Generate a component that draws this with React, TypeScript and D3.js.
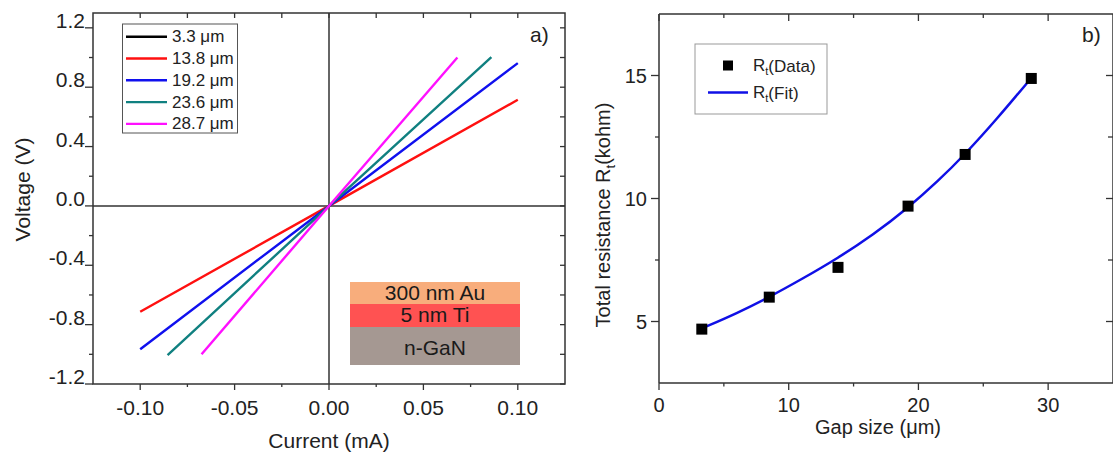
import React from "react";
import * as d3 from "d3";

// ---------- Panel a) I-V data ----------
const ivLabels = ["3.3 μm", "13.8 μm", "19.2 μm", "23.6 μm", "28.7 μm"];
const ivColors = ["#000000", "#ff1010", "#1010ee", "#108080", "#ff10ff"];
const ivCurrent: number[][] = [[], [-0.1, 0, 0.1], [-0.1, 0, 0.1], [-0.0855, 0, 0.086], [-0.0675, 0, 0.068]];
const ivVoltage: number[][] = [[], [-0.713, 0, 0.715], [-0.966, 0, 0.962], [-1.005, 0, 1.003], [-1.0, 0, 1.0]];
const aXMajor = [-0.1, -0.05, 0, 0.05, 0.1];
const aXMajorLabels = ["-0.10", "-0.05", "0.00", "0.05", "0.10"];
const aXMinor = [-0.075, -0.025, 0.025, 0.075];
const aYMajor = [-1.2, -0.8, -0.4, 0, 0.4, 0.8, 1.2];
const aYMajorLabels = ["-1.2", "-0.8", "-0.4", "0.0", "0.4", "0.8", "1.2"];
const aYMinor = [-1.0, -0.6, -0.2, 0.2, 0.6, 1.0];
const layers = ["300 nm Au", "5 nm Ti", "n-GaN"];
const layerColors = ["#f8ad7c", "#ff5252", "#a59892"];

// ---------- Panel b) resistance data ----------
const gapData = [3.3, 8.5, 13.8, 19.2, 23.6, 28.7];
const resData = [4.69, 5.99, 7.2, 9.69, 11.79, 14.88];
const fitGap = [3.3, 6, 8.6, 11, 13.8, 16.5, 19.2, 21.5, 23.6, 26, 28.7];
const fitRes = [4.72, 5.33, 6.02, 6.72, 7.58, 8.52, 9.62, 10.7, 11.8, 13.2, 14.9];
const bXMajor = [0, 10, 20, 30];
const bXMinor = [5, 15, 25];
const bYMajor = [5, 10, 15];
const bYMinor = [7.5, 12.5];

const FONT = "'Liberation Sans', Arial, sans-serif";
const AX = "#333";
const TXT = "#222";

export default function App() {
  // panel a geometry
  const aL = 93, aR = 565, aT = 13, aB = 384;
  const xa = d3.scaleLinear().domain([-0.125, 0.125]).range([aL, aR]);
  const ya = d3.scaleLinear().domain([-1.2, 1.3]).range([aB, aT]);
  // panel b geometry
  const bL = 659, bR = 1113, bT = 14, bB = 383;
  const xb = d3.scaleLinear().domain([0, 35]).range([bL, bR]);
  const yb = d3.scaleLinear().domain([2.5, 17.5]).range([bB, bT]);

  const ivLine = d3.line<[number, number]>().x((d) => xa(d[0])).y((d) => ya(d[1]));
  const fitLine = d3
    .line<[number, number]>()
    .x((d) => xb(d[0]))
    .y((d) => yb(d[1]))
    .curve(d3.curveBasis);

  const legRow0 = 36.7, legStep = 21.8;

  return (
    <svg
      width={1113}
      height={456}
      style={{ position: "absolute", left: 0, top: 0, background: "#fff" }}
      fontFamily={FONT}
    >
      {/* ================= Panel a ================= */}
      <g>
        <line x1={xa(0)} x2={xa(0)} y1={aT} y2={aB} stroke={AX} strokeWidth={1.5} />
        <line x1={aL} x2={aR} y1={ya(0)} y2={ya(0)} stroke={AX} strokeWidth={1.5} />
        {ivLabels.map((lab, i) => {
          const pts = ivCurrent[i].map((c, j) => [c, ivVoltage[i][j]] as [number, number]);
          if (pts.length < 2) return null;
          return (
            <path key={lab} d={ivLine(pts) || ""} fill="none" stroke={ivColors[i]} strokeWidth={2.4} />
          );
        })}
        <rect x={aL} y={aT} width={aR - aL} height={aB - aT} fill="none" stroke={AX} strokeWidth={1.5} />
        {aXMajor.map((v, i) => (
          <g key={"axm" + i}>
            <line x1={xa(v)} x2={xa(v)} y1={aB} y2={aB + 6} stroke={AX} strokeWidth={1.3} />
            <line x1={xa(v)} x2={xa(v)} y1={aT} y2={aT + 5} stroke={AX} strokeWidth={1.3} />
            <text x={xa(v)} y={415} textAnchor="middle" fontSize={21} fill={TXT}>
              {aXMajorLabels[i]}
            </text>
          </g>
        ))}
        {aXMinor.map((v, i) => (
          <g key={"axn" + i}>
            <line x1={xa(v)} x2={xa(v)} y1={aB} y2={aB + 3} stroke={AX} strokeWidth={1.3} />
            <line x1={xa(v)} x2={xa(v)} y1={aT} y2={aT + 5} stroke={AX} strokeWidth={1.3} />
          </g>
        ))}
        {aYMajor.map((v, i) => (
          <g key={"aym" + i}>
            <line x1={aL - 8} x2={aL} y1={ya(v)} y2={ya(v)} stroke={AX} strokeWidth={1.3} />
            <line x1={aR - 5} x2={aR} y1={ya(v)} y2={ya(v)} stroke={AX} strokeWidth={1.3} />
            <text x={aL - 8} y={ya(v)} textAnchor="end" fontSize={21} fill={TXT}>
              {aYMajorLabels[i]}
            </text>
          </g>
        ))}
        {aYMinor.map((v, i) => (
          <g key={"ayn" + i}>
            <line x1={aL - 4} x2={aL} y1={ya(v)} y2={ya(v)} stroke={AX} strokeWidth={1.3} />
            <line x1={aR - 5} x2={aR} y1={ya(v)} y2={ya(v)} stroke={AX} strokeWidth={1.3} />
          </g>
        ))}
        <text x={(aL + aR) / 2} y={448} textAnchor="middle" fontSize={21} fill={TXT}>
          Current (mA)
        </text>
        <text
          transform={`translate(30,${(aT + aB) / 2 - 9}) rotate(-90)`}
          textAnchor="middle"
          fontSize={21}
          fill={TXT}
        >
          Voltage (V)
        </text>
        <text x={530} y={42} fontSize={21} fill={TXT}>
          a)
        </text>
        <rect x={122.5} y={24} width={115} height={109} fill="#fff" stroke="#555" strokeWidth={1} />
        {ivLabels.map((lab, i) => (
          <g key={"leg" + i}>
            <line
              x1={126}
              x2={167}
              y1={legRow0 + i * legStep}
              y2={legRow0 + i * legStep}
              stroke={ivColors[i]}
              strokeWidth={2.4}
            />
            <text x={172} y={legRow0 + i * legStep} dominantBaseline="central" fontSize={17} fill={TXT}>
              {lab}
            </text>
          </g>
        ))}
        {layers.map((lab, i) => {
          const ys = [282, 304, 327, 365];
          const bases = [300, 321.5, 355];
          return (
            <g key={"lay" + i}>
              <rect x={350} y={ys[i]} width={170} height={ys[i + 1] - ys[i]} fill={layerColors[i]} />
              <text x={435} y={bases[i]} textAnchor="middle" fontSize={21} fill="#1a1a1a">
                {lab}
              </text>
            </g>
          );
        })}
      </g>

      {/* ================= Panel b ================= */}
      <g>
        <path
          d={fitLine(fitGap.map((g, i) => [g, fitRes[i]] as [number, number])) || ""}
          fill="none"
          stroke="#1010e6"
          strokeWidth={2.5}
        />
        {gapData.map((g, i) => (
          <rect key={"pt" + i} x={xb(g) - 5.5} y={yb(resData[i]) - 5.5} width={11} height={11} fill="#000" />
        ))}
        <line x1={bL} x2={bL} y1={bT} y2={bB} stroke={AX} strokeWidth={1.5} />
        <line x1={bL} x2={bR} y1={bB} y2={bB} stroke={AX} strokeWidth={1.5} />
        <line x1={bL} x2={bR} y1={bT} y2={bT} stroke={AX} strokeWidth={1.5} />
        <line x1={bR} x2={bR} y1={bT} y2={bB} stroke={AX} strokeWidth={1.5} />
        {bXMajor.map((v, i) => (
          <g key={"bxm" + i}>
            <line x1={xb(v)} x2={xb(v)} y1={bB} y2={bB + 7} stroke={AX} strokeWidth={1.3} />
            <line x1={xb(v)} x2={xb(v)} y1={bT} y2={bT + 7} stroke={AX} strokeWidth={1.3} />
            <text x={xb(v)} y={412} textAnchor="middle" fontSize={20} fill={TXT}>
              {v}
            </text>
          </g>
        ))}
        {bXMinor.map((v, i) => (
          <g key={"bxn" + i}>
            <line x1={xb(v)} x2={xb(v)} y1={bB} y2={bB + 3.5} stroke={AX} strokeWidth={1.3} />
            <line x1={xb(v)} x2={xb(v)} y1={bT} y2={bT + 4} stroke={AX} strokeWidth={1.3} />
          </g>
        ))}
        {bYMajor.map((v, i) => (
          <g key={"bym" + i}>
            <line x1={bL - 8} x2={bL} y1={yb(v)} y2={yb(v)} stroke={AX} strokeWidth={1.3} />
            <line x1={bR - 7} x2={bR} y1={yb(v)} y2={yb(v)} stroke={AX} strokeWidth={1.3} />
            <text x={bL - 12} y={yb(v)} dy="0.36em" textAnchor="end" fontSize={20} fill={TXT}>
              {v}
            </text>
          </g>
        ))}
        {bYMinor.map((v, i) => (
          <g key={"byn" + i}>
            <line x1={bL - 4} x2={bL} y1={yb(v)} y2={yb(v)} stroke={AX} strokeWidth={1.3} />
            <line x1={bR - 5} x2={bR} y1={yb(v)} y2={yb(v)} stroke={AX} strokeWidth={1.3} />
          </g>
        ))}
        <text x={878} y={434} textAnchor="middle" fontSize={20} fill={TXT}>
          Gap size (μm)
        </text>
        <text transform={`translate(610,215) rotate(-90)`} textAnchor="middle" fontSize={20} fill={TXT}>
          Total resistance R<tspan fontSize={13} dy={5}>t</tspan>
          <tspan dy={-5}>(kohm)</tspan>
        </text>
        <text x={1082} y={42} fontSize={21} fill={TXT}>
          b)
        </text>
        <rect x={695} y={44} width={132} height={70} fill="#fff" stroke="#999" strokeWidth={1} />
        <rect x={723} y={60.5} width={10} height={10} fill="#000" />
        <text x={753} y={65.5} dominantBaseline="central" fontSize={17} fill={TXT}>
          R<tspan fontSize={11} dy={5}>t</tspan>
          <tspan dy={-5}>(Data)</tspan>
        </text>
        <line x1={708} x2={748} y1={92.5} y2={92.5} stroke="#1010e6" strokeWidth={2.5} />
        <text x={753} y={92.5} dominantBaseline="central" fontSize={17} fill={TXT}>
          R<tspan fontSize={11} dy={5}>t</tspan>
          <tspan dy={-5}>(Fit)</tspan>
        </text>
      </g>
    </svg>
  );
}
